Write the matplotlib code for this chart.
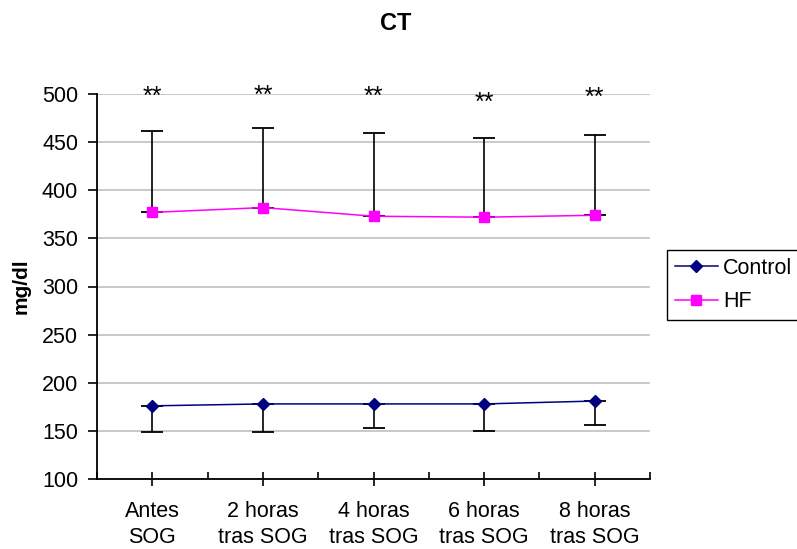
import matplotlib
matplotlib.use("Agg")
import matplotlib.pyplot as plt
import numpy as np

# data
categories = ["Antes\nSOG", "2 horas\ntras SOG", "4 horas\ntras SOG", "6 horas\ntras SOG", "8 horas\ntras SOG"]
control = [176, 178, 178, 178, 181]
control_sd = [27, 29, 25, 28, 25]
hf = [377, 382, 373, 372, 374]
hf_sd = [85, 83, 86, 82, 83]
star_y = [497, 498, 497, 491, 496]

plt.rcParams.update({"font.family": ["Liberation Sans", "DejaVu Sans"], "font.size": 15.5})

fig = plt.figure(figsize=(7.97, 5.49), dpi=100)
ax = fig.add_axes([97 / 797, 1 - 479 / 549, 553 / 797, 385 / 549])
x = np.arange(len(categories))

# error bars: HF upward only, Control downward only
ax.errorbar(x, hf, yerr=[np.zeros(len(hf)), hf_sd], fmt="none", ecolor="black",
            elinewidth=1.2, capsize=8, capthick=1.3, zorder=2)
ax.errorbar(x, control, yerr=[control_sd, np.zeros(len(control))], fmt="none", ecolor="black",
            elinewidth=1.2, capsize=8, capthick=1.3, zorder=2)

ax.plot(x, control, "-D", color="#000080", lw=1.1, ms=6.5, label="Control", zorder=3)
ax.plot(x, hf, "-s", color="#FF00FF", lw=1.1, ms=7, label="HF", zorder=3)

for xi, yi in zip(x, star_y):
    ax.text(xi, yi, "**", ha="center", va="center", fontsize=18)

ax.set_xlim(-0.5, len(categories) - 0.5)
ax.set_ylim(100, 500)
ax.set_yticks(np.arange(100, 501, 50))
ax.set_xticks(x)
ax.set_xticklabels(categories, linespacing=1.3)
ax.set_xticks(np.arange(-0.5, len(categories), 1), minor=True)
ax.tick_params(axis="x", which="major", direction="inout", length=10, width=1.2, pad=11)
ax.tick_params(axis="x", which="minor", direction="in", length=5, width=1.2)
ax.tick_params(axis="y", direction="out", length=6.5, width=1.2, pad=7)
ax.yaxis.grid(True, color="#c0c0c0", lw=1.2)
ax.set_axisbelow(True)
for s in ["top", "right"]:
    ax.spines[s].set_visible(False)
for s in ["left", "bottom"]:
    ax.spines[s].set_linewidth(1.3)

fig.text(21 / 797, 1 - 286 / 549, "mg/dl", ha="center", va="center", rotation=90,
         fontweight="bold", fontsize=15)
fig.text(396 / 797, 1 - 23 / 549, "CT", ha="center", va="center", fontweight="bold", fontsize=17)

leg = fig.legend(loc="upper left", bbox_to_anchor=(667 / 797, 1 - 250 / 549), frameon=True,
                 fancybox=False, edgecolor="black", framealpha=1, handlelength=2.0,
                 handletextpad=0.25, labelspacing=0.6, borderpad=0.35, borderaxespad=0)
leg.get_frame().set_linewidth(1.0)

fig.savefig("out.png", dpi=100)
